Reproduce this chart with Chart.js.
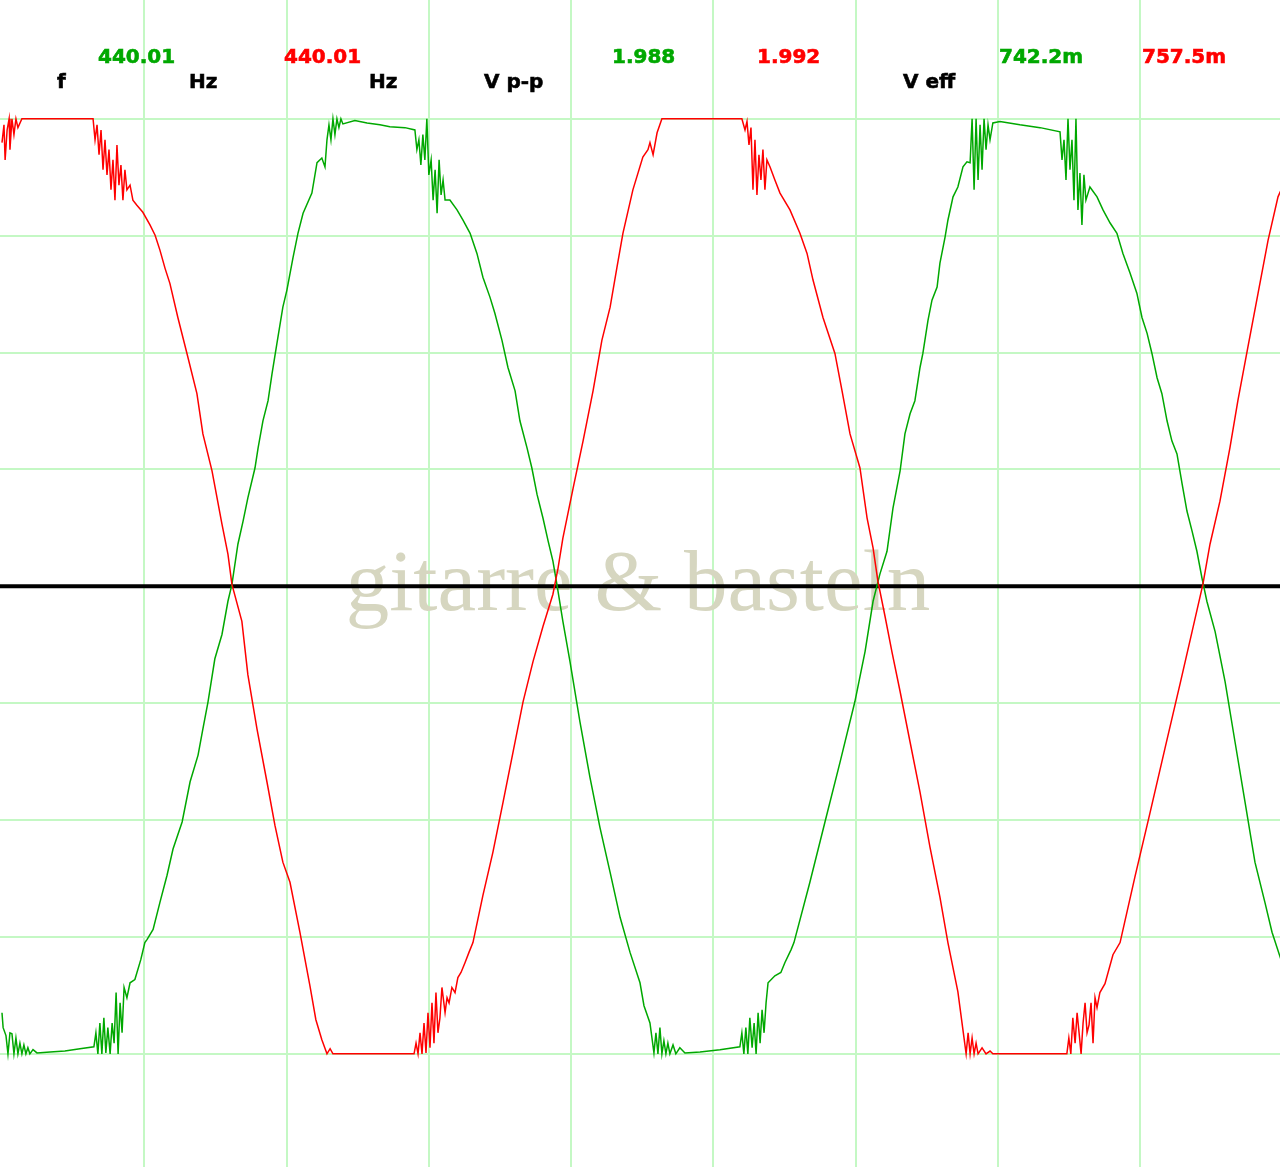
<!DOCTYPE html>
<html>
<head>
<meta charset="utf-8">
<title>Oszilloskop 440 Hz</title>
<script src="https://cdn.jsdelivr.net/npm/chart.js@4.4.0/dist/chart.umd.min.js"></script>
<style>
  html, body { margin: 0; padding: 0; background: #ffffff; overflow: hidden; }
  #scope { display: block; }
</style>
</head>
<body>
<canvas id="scope" width="1280" height="1167"></canvas>
<script>
"use strict";

// Kanal rot: Zeit in µs, Spannung in mV
const redTime = [0, 7, 11, 18, 25, 28, 35, 42, 49, 56, 70, 320, 327, 334, 341, 348, 355, 362, 369, 376, 383, 390, 397, 404, 411, 418, 425, 432, 439, 450, 460, 474, 495, 520, 538, 555, 573, 590, 618, 650, 685, 706, 738, 773, 794, 808, 843, 864, 896, 931, 959, 987, 1012, 1047, 1082, 1103, 1124, 1142, 1153, 1163, 1448, 1455, 1462, 1469, 1476, 1483, 1490, 1497, 1504, 1511, 1518, 1525, 1532, 1539, 1546, 1557, 1564, 1571, 1581, 1592, 1602, 1613, 1627, 1641, 1655, 1690, 1725, 1761, 1796, 1831, 1866, 1901, 1936, 1954, 1971, 2007, 2042, 2077, 2108, 2137, 2161, 2182, 2217, 2252, 2270, 2277, 2288, 2302, 2319, 2600, 2611, 2618, 2625, 2632, 2639, 2646, 2653, 2660, 2667, 2674, 2681, 2688, 2699, 2716, 2734, 2769, 2804, 2829, 2850, 2885, 2927, 2952, 2980, 3015, 3040, 3061, 3078, 3103, 3127, 3156, 3191, 3226, 3261, 3296, 3324, 3359, 3380, 3388, 3395, 3402, 3409, 3416, 3423, 3430, 3444, 3458, 3472, 3482, 3742, 3749, 3756, 3763, 3771, 3778, 3785, 3792, 3799, 3806, 3813, 3820, 3827, 3834, 3841, 3848, 3858, 3876, 3904, 3929, 3981, 4034, 4087, 4140, 4182, 4220, 4245, 4280, 4315, 4343, 4378, 4414, 4449, 4484, 4498];
const redVolt = [949, 987, 912, 976, 1000, 934, 1000, 966, 1000, 981, 1000, 1000, 955, 987, 923, 976, 891, 955, 880, 934, 848, 912, 826, 944, 858, 901, 826, 891, 848, 858, 826, 815, 800, 773, 751, 719, 680, 648, 575, 498, 412, 326, 247, 133, 69, 4, -75, -189, -305, -418, -511, -590, -633, -740, -854, -927, -970, -1000, -989, -1000, -1000, -977, -1000, -955, -1000, -934, -998, -912, -987, -891, -977, -869, -955, -923, -858, -912, -880, -891, -858, -869, -837, -826, -805, -783, -762, -661, -569, -461, -354, -247, -161, -86, -17, 39, 103, 210, 311, 418, 526, 597, 682, 755, 848, 918, 934, 949, 923, 970, 1000, 1000, 976, 994, 944, 981, 848, 955, 837, 923, 869, 934, 848, 912, 897, 869, 841, 805, 755, 712, 655, 575, 498, 418, 326, 253, 146, 82, 11, -64, -139, -225, -333, -440, -558, -665, -762, -867, -963, -1000, -955, -1000, -966, -1000, -977, -1000, -987, -1000, -994, -1000, -1000, -966, -1000, -923, -977, -912, -955, -1000, -934, -891, -955, -938, -891, -977, -880, -901, -869, -850, -788, -762, -622, -485, -346, -208, -97, 4, 90, 182, 296, 397, 511, 627, 740, 833, 852];

// Kanal grün: Zeit in µs, Spannung in mV
const greenTime = [0, 4, 14, 21, 28, 35, 42, 49, 56, 63, 70, 77, 84, 91, 98, 109, 123, 169, 221, 274, 323, 330, 337, 344, 351, 358, 365, 372, 380, 387, 394, 401, 408, 415, 422, 429, 439, 450, 467, 488, 502, 510, 531, 555, 580, 601, 633, 661, 689, 706, 724, 748, 773, 794, 808, 829, 847, 864, 889, 900, 917, 935, 949, 966, 987, 1001, 1023, 1040, 1058, 1089, 1107, 1124, 1135, 1142, 1149, 1156, 1163, 1170, 1177, 1184, 1191, 1198, 1240, 1283, 1328, 1363, 1416, 1451, 1458, 1465, 1472, 1479, 1486, 1493, 1500, 1508, 1515, 1522, 1529, 1536, 1543, 1550, 1557, 1574, 1599, 1620, 1645, 1669, 1690, 1715, 1732, 1757, 1778, 1803, 1820, 1845, 1862, 1880, 1901, 1919, 1936, 1950, 1971, 1996, 2031, 2066, 2101, 2137, 2172, 2207, 2242, 2256, 2277, 2291, 2298, 2305, 2312, 2319, 2326, 2333, 2340, 2347, 2358, 2368, 2382, 2400, 2453, 2523, 2593, 2600, 2607, 2614, 2621, 2628, 2636, 2643, 2650, 2657, 2664, 2671, 2678, 2685, 2692, 2716, 2737, 2751, 2773, 2783, 2839, 2892, 2945, 2997, 3033, 3061, 3085, 3110, 3131, 3156, 3173, 3191, 3208, 3226, 3236, 3254, 3268, 3286, 3296, 3314, 3324, 3342, 3359, 3377, 3391, 3402, 3409, 3416, 3423, 3430, 3437, 3444, 3451, 3458, 3465, 3472, 3482, 3507, 3577, 3648, 3718, 3725, 3732, 3739, 3746, 3753, 3760, 3767, 3774, 3781, 3788, 3795, 3802, 3809, 3823, 3848, 3869, 3894, 3918, 3939, 3964, 3988, 4006, 4024, 4041, 4059, 4076, 4094, 4111, 4129, 4147, 4164, 4182, 4199, 4217, 4234, 4263, 4298, 4333, 4368, 4403, 4438, 4463, 4498];
const greenVolt = [-912, -944, -961, -1000, -955, -957, -1000, -966, -1000, -977, -1000, -981, -1000, -987, -1000, -991, -998, -996, -994, -989, -985, -955, -1000, -934, -1000, -923, -998, -944, -1000, -934, -977, -869, -1000, -891, -955, -858, -880, -848, -841, -798, -762, -755, -734, -676, -618, -562, -504, -418, -361, -305, -247, -155, -103, -32, 4, 90, 139, 189, 253, 296, 354, 397, 455, 519, 597, 633, 704, 755, 798, 841, 906, 916, 897, 955, 987, 955, 1000, 966, 1000, 981, 1000, 989, 996, 991, 987, 983, 981, 976, 934, 955, 901, 966, 912, 1000, 880, 912, 826, 891, 798, 912, 837, 869, 826, 826, 805, 783, 755, 712, 661, 618, 584, 526, 468, 418, 354, 296, 253, 197, 146, 97, 54, 4, -75, -161, -290, -408, -515, -612, -708, -783, -848, -897, -934, -998, -955, -1000, -944, -1000, -972, -1000, -977, -1000, -981, -1000, -987, -998, -996, -991, -985, -955, -1000, -944, -1000, -923, -987, -934, -1000, -912, -977, -906, -955, -891, -848, -833, -826, -805, -777, -762, -633, -504, -376, -247, -139, -32, 26, 75, 167, 247, 326, 369, 397, 468, 498, 569, 612, 640, 691, 747, 783, 833, 854, 897, 908, 906, 1000, 848, 1000, 869, 987, 891, 1000, 934, 987, 955, 991, 994, 987, 981, 972, 912, 955, 869, 1000, 891, 955, 826, 1000, 805, 884, 773, 880, 826, 854, 833, 805, 777, 755, 712, 670, 627, 575, 541, 498, 446, 412, 354, 311, 283, 219, 161, 118, 75, 17, -32, -97, -204, -333, -461, -590, -676, -740, -805];

// Raster: 500 µs/Div, 250 mV/Div
const timeTicks = [500, 1000, 1500, 2000, 2500, 3000, 3500, 4000];
const voltTicks = [-1000, -750, -500, -250, 0, 250, 500, 750, 1000];

// Messwerte oben
const readoutUnits = ['f', 'Hz', 'Hz', 'V p-p', 'V eff'];
const greenReadings = ['440.01', '1.988', '742.2m'];
const redReadings = ['440.01', '1.992', '757.5m'];
const watermarkText = 'gitarre & basteln';

const GRID = '#c4f8c4';
const GREEN = '#00a800';
const RED = '#ff0000';

function toPoints(times, volts) {
  return times.map((t, i) => ({ x: t, y: volts[i] }));
}

// Wasserzeichen, Nulllinie und Messwerte
const scopeOverlay = {
  id: 'scopeOverlay',
  beforeDatasetsDraw(chart) {
    const ctx = chart.ctx;
    const area = chart.chartArea;
    const y0 = chart.scales.y.getPixelForValue(0);
    ctx.save();
    ctx.fillStyle = '#d6d6c0';
    ctx.font = '87px "Liberation Serif", "DejaVu Serif", serif';
    ctx.textAlign = 'center';
    ctx.textBaseline = 'alphabetic';
    ctx.fillText(watermarkText, 638, 610);

    ctx.strokeStyle = '#000000';
    ctx.lineWidth = 4;
    ctx.beginPath();
    ctx.moveTo(area.left, y0);
    ctx.lineTo(area.right, y0);
    ctx.stroke();
    ctx.restore();
  },
  afterDraw(chart) {
    const ctx = chart.ctx;
    ctx.save();
    ctx.font = 'bold 20px "DejaVu Sans", Verdana, sans-serif';
    ctx.textAlign = 'left';
    ctx.textBaseline = 'alphabetic';
    ctx.lineWidth = 0.6;

    function put(list, xs, y, colour) {
      ctx.fillStyle = colour;
      ctx.strokeStyle = colour;
      list.forEach((s, i) => {
        ctx.fillText(s, xs[i], y);
        ctx.strokeText(s, xs[i], y);
      });
    }

    put(readoutUnits, [57, 189, 369, 484, 903], 88, '#000000');
    put(greenReadings, [98, 612, 999], 63, GREEN);
    put(redReadings, [284, 757, 1142], 63, RED);
    ctx.restore();
  }
};

new Chart(document.getElementById('scope'), {
  type: 'line',
  data: {
    datasets: [
      {
        label: 'Kanal rot',
        data: toPoints(redTime, redVolt),
        borderColor: RED,
        borderWidth: 1.5,
        pointRadius: 0,
        tension: 0,
        fill: false
      },
      {
        label: 'Kanal grün',
        data: toPoints(greenTime, greenVolt),
        borderColor: GREEN,
        borderWidth: 1.5,
        pointRadius: 0,
        tension: 0,
        fill: false
      }
    ]
  },
  options: {
    responsive: false,
    animation: false,
    layout: { padding: 0 },
    plugins: {
      legend: { display: false },
      tooltip: { enabled: false }
    },
    scales: {
      x: {
        type: 'linear',
        min: -7,
        max: 4491,
        border: { display: false },
        ticks: { display: false },
        afterBuildTicks: scale => { scale.ticks = timeTicks.map(v => ({ value: v })); },
        grid: { drawTicks: false, lineWidth: 2, color: GRID }
      },
      y: {
        type: 'linear',
        min: -1242,
        max: 1254,
        border: { display: false },
        ticks: { display: false },
        afterBuildTicks: scale => { scale.ticks = voltTicks.map(v => ({ value: v })); },
        grid: { drawTicks: false, lineWidth: 2, color: GRID }
      }
    }
  },
  plugins: [scopeOverlay]
});
</script>
</body>
</html>
